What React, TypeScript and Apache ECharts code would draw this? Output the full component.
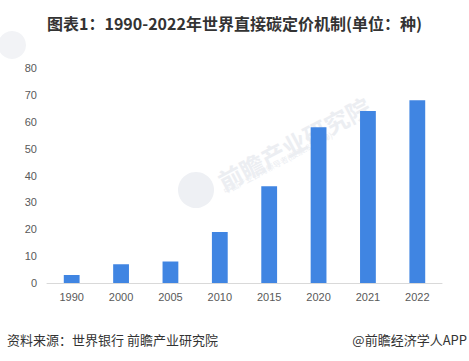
import React, { useEffect, useRef } from "react";
import * as echarts from "echarts";

const categories = ["1990", "2000", "2005", "2010", "2015", "2020", "2021", "2022"];
const values = [3, 7, 8, 19, 36, 58, 64, 68];
const yTicks = { min: 0, max: 80, interval: 10 };
const titleText = "图表1：1990-2022年世界直接碳定价机制(单位：种)";
const sourceText = "资料来源：世界银行 前瞻产业研究院";
const brandText = "@前瞻经济学人APP";

export default function App() {
  const ref = useRef<HTMLDivElement>(null);
  useEffect(() => {
    if (!ref.current) return;
    const chart = echarts.init(ref.current, undefined, { renderer: "svg" });
    chart.setOption({
      animation: false,
      backgroundColor: "#ffffff",
      title: {
        text: titleText,
        left: "center",
        top: 10,
        textStyle: {
          fontFamily: "Noto Sans CJK SC",
          fontSize: 16,
          fontWeight: "bold",
          color: "#333333",
        },
      },
      graphic: [
        {
          type: "circle",
          shape: { cx: 196, cy: 190, r: 18 },
          style: { fill: "#eef0f4" },
          silent: true,
          z: 0,
        },
        {
          type: "circle",
          shape: { cx: 12, cy: 45, r: 14 },
          style: { fill: "#f2f3f6" },
          silent: true,
          z: 0,
        },
        {
          type: "text",
          x: 214,
          y: 172,
          rotation: (28 * Math.PI) / 180,
          style: {
            text: "前瞻产业研究院",
            fontFamily: "Noto Sans CJK SC",
            fontSize: 24,
            fontWeight: "bold",
            fill: "#eceef2",
          },
          silent: true,
          z: 0,
        },
        {
          type: "text",
          x: 222,
          y: 188,
          rotation: (28 * Math.PI) / 180,
          style: {
            text: "中国产业咨询领导者(股票:839599)",
            fontFamily: "Noto Sans CJK SC",
            fontSize: 8,
            fill: "#eceef2",
          },
          silent: true,
          z: 0,
        },
        {
          type: "text",
          left: 7,
          top: 333,
          style: {
            text: sourceText,
            fontFamily: "Noto Sans CJK SC",
            fontSize: 13,
            fill: "#333333",
          },
        },
        {
          type: "text",
          right: 2,
          top: 333,
          style: {
            text: brandText,
            fontFamily: "Noto Sans CJK SC",
            fontSize: 13,
            fill: "#333333",
          },
        },
      ],
      grid: { left: 47, right: 27, top: 68, bottom: 78, containLabel: false },
      xAxis: {
        type: "category",
        data: categories,
        axisLine: { lineStyle: { color: "#d9d9d9", width: 1 } },
        axisTick: { show: false },
        axisLabel: {
          color: "#595959",
          fontSize: 11,
          fontFamily: "Liberation Sans",
          margin: 8,
        },
      },
      yAxis: {
        type: "value",
        min: yTicks.min,
        max: yTicks.max,
        interval: yTicks.interval,
        axisLine: { show: false },
        axisTick: { show: false },
        splitLine: { show: false },
        axisLabel: {
          color: "#595959",
          fontSize: 11,
          fontFamily: "Liberation Sans",
          margin: 10,
        },
      },
      series: [
        {
          type: "bar",
          data: values,
          barWidth: "32%",
          itemStyle: { color: "#4085e2" },
          z: 2,
        },
      ],
    });
    return () => chart.dispose();
  }, []);
  return <div ref={ref} style={{ width: 469, height: 361, position: "absolute", left: 0, top: 0 }} />;
}
